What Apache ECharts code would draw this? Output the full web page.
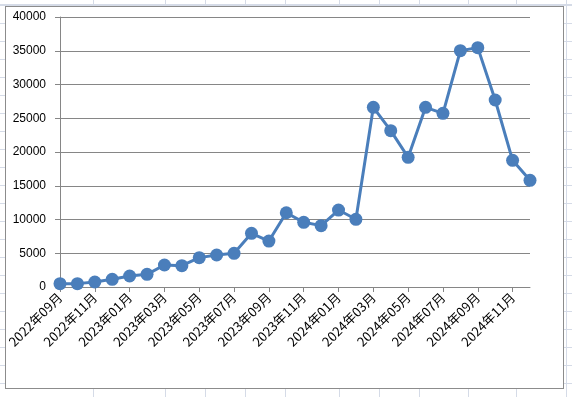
<!DOCTYPE html>
<html>
<head>
<meta charset="utf-8">
<script src="https://cdn.jsdelivr.net/npm/echarts@6/dist/echarts.min.js"></script>
<style>
  html, body { margin: 0; padding: 0; width: 572px; height: 397px; overflow: hidden; }
  body {
    position: relative;
    background-color: #fff;
    background-image: repeating-linear-gradient(to bottom, #d5dbe7 0px, #d5dbe7 1px, transparent 1px, transparent 18px);
    background-position: 0 5px;
  }
  .col { position: absolute; top: 0; width: 1px; height: 397px; background: #d5dbe7; }
  #frame { position: absolute; left: 5px; top: 6px; width: 557px; height: 381px; background: #fff; border: 1px solid #8c8c8c; }
  #main { position: absolute; left: 0; top: 0; width: 572px; height: 397px; }
</style>
</head>
<body>
<div id="frame"></div>
<div id="main"></div>
<script>
// 背景的表格列线（装饰）
var sheetCols = [93, 165, 205, 245, 285, 339, 379, 419, 468, 516, 566];
sheetCols.forEach(function (x) {
  var d = document.createElement('div');
  d.className = 'col';
  d.style.left = x + 'px';
  document.body.insertBefore(d, document.getElementById('frame'));
});

var months = [
  '2022年09月', '2022年10月', '2022年11月', '2022年12月',
  '2023年01月', '2023年02月', '2023年03月', '2023年04月', '2023年05月', '2023年06月',
  '2023年07月', '2023年08月', '2023年09月', '2023年10月', '2023年11月', '2023年12月',
  '2024年01月', '2024年02月', '2024年03月', '2024年04月', '2024年05月', '2024年06月',
  '2024年07月', '2024年08月', '2024年09月', '2024年10月', '2024年11月', '2024年12月'
];
var values = [
  500, 500, 740, 1140, 1630, 1880,
  3260, 3160, 4350, 4740, 4990, 7950,
  6810, 11000, 9580, 9090, 11400, 10030,
  26620, 23160, 19210, 26620, 25730, 35010,
  35460, 27700, 18770, 15800
];
var yMax = 40000;
var yStep = 5000;

var chart = echarts.init(document.getElementById('main'));
var option = {
  animation: false,
  grid: { left: 60, right: 42, top: 17, bottom: 110, containLabel: false },
  xAxis: {
    type: 'category',
    data: months,
    boundaryGap: false,
    axisLine: { lineStyle: { color: '#868686', width: 1 } },
    axisTick: { show: true, interval: 1, length: 5, lineStyle: { color: '#868686' } },
    axisLabel: {
      interval: 1,
      rotate: 45,
      margin: 8,
      color: '#000',
      fontSize: 13,
      fontFamily: '"Noto Sans CJK SC", "Liberation Sans", sans-serif'
    },
    splitLine: { show: false }
  },
  yAxis: {
    type: 'value',
    min: 0,
    max: yMax,
    interval: yStep,
    axisLine: { show: true, lineStyle: { color: '#868686', width: 1 } },
    axisTick: { show: true, length: 5, lineStyle: { color: '#868686' } },
    axisLabel: {
      color: '#000',
      fontSize: 12,
      margin: 14,
      fontFamily: '"Liberation Sans", Arial, sans-serif',
      formatter: function (v) { return String(v); }
    },
    splitLine: { show: true, lineStyle: { color: '#868686', width: 1 } }
  },
  series: [{
    type: 'line',
    data: values,
    symbol: 'circle',
    symbolSize: 13,
    showAllSymbol: true,
    clip: false,
    lineStyle: { color: '#4a7ebb', width: 3 },
    itemStyle: { color: '#4a7ebb' }
  }]
};
chart.setOption(option, true);
</script>
</body>
</html>
